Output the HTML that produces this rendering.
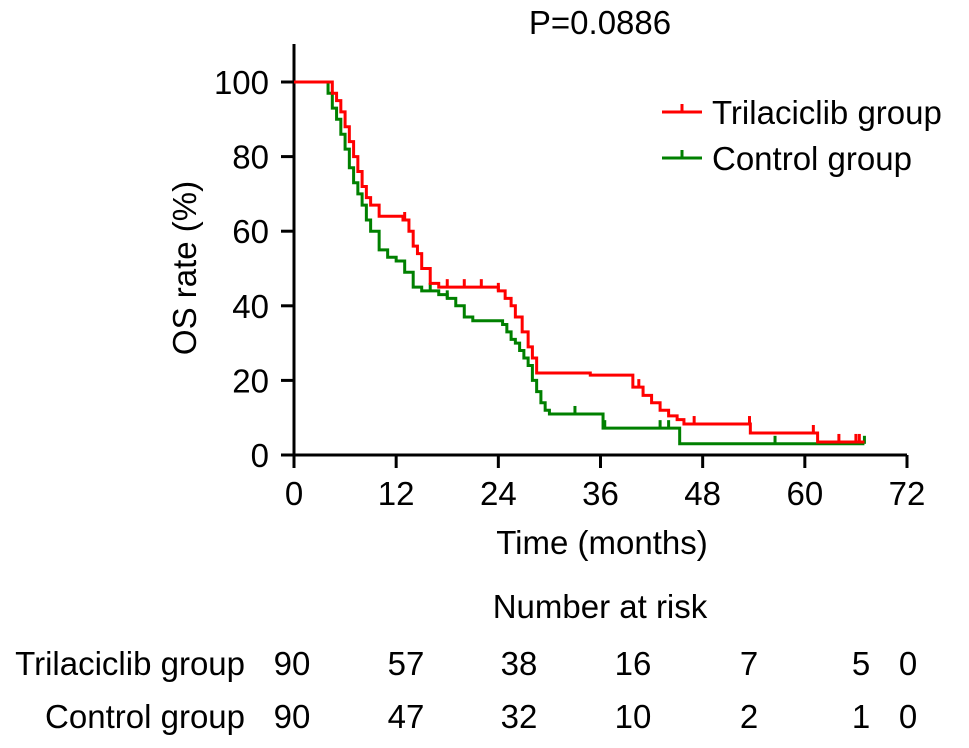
<!DOCTYPE html>
<html><head><meta charset="utf-8"><style>
body{margin:0;background:#fff;}
svg{display:block;font-family:"Liberation Sans",Arial,sans-serif;}
</style></head><body>
<svg id="chart" width="969" height="748">
<text x="600" y="34" font-size="33" text-anchor="middle">P=0.0886</text>
<text transform="translate(196,268) rotate(-90)" font-size="33" text-anchor="middle">OS rate (%)</text>
<text x="602" y="554" font-size="33" text-anchor="middle">Time (months)</text>
<g>
<line x1="662" y1="112" x2="702" y2="112" stroke="#ff0000" stroke-width="3"/>
<line x1="682" y1="112" x2="682" y2="104" stroke="#ff0000" stroke-width="3"/>
<text x="712" y="124" font-size="33">Trilaciclib group</text>
<line x1="662" y1="158" x2="702" y2="158" stroke="#008000" stroke-width="3"/>
<line x1="682" y1="158" x2="682" y2="150" stroke="#008000" stroke-width="3"/>
<text x="712" y="170" font-size="33">Control group</text>
</g>
<text x="600" y="618" font-size="33" text-anchor="middle">Number at risk</text>
<g id="axes"></g>
<g id="series"></g>
<g id="risk"></g>
</svg>
<script>
const xTicks=[0,12,24,36,48,60,72];
const yTicks=[0,20,40,60,80,100];
const redT=[0,3.8,4.5,5,5.5,6,6.5,7,7.5,8,8.5,9,10,12.8,13.5,14,14.5,15,16,17,24,24.8,25.5,26,26.8,27.5,28,28.5,34.8,39.8,41,42,43,44,45,45.8,53.6,61.5,67];
const redS=[100,100,97,95,92,88,84,80,76,72,69,67,64,63,60,56,54,50,46,45,44,42,40,37,33,29,26,22,21.4,18.2,16,14,12,10.5,9.5,8.3,5.9,3.5,3.5];
const grnT=[0,3.5,4,4.5,5,5.5,6,6.5,7,7.5,8,8.5,9,10,11,12,13,14,15,17,18,19,20,21,24.5,25,25.5,26,26.5,27,27.5,28,28.5,29,29.5,30,35.9,36.3,45.3,67];
const grnS=[100,100,97,93,90,86,82,77,73,70,67,63,60,55,53,52,49,45,44,43,42,40,37,36,35,33,31,30,28,26,24,20,17,14,12,11,11,7.2,3,3];
const redCensor=[13,18,20,22,24,40.5,47,53.5,61,64,66,66.4];
const grnCensor=[16,18,33,36.5,43,44,56.5,67];
const riskRed=[90,57,38,16,7,5,0];
const riskGrn=[90,47,32,10,2,1,0];
const riskX=[292,406,519,633,749,861,908];
const NS="http://www.w3.org/2000/svg";
const X=t=>294+t*(613/72), Y=s=>455-s*3.73;
function mk(tag,attrs,parent){const e=document.createElementNS(NS,tag);for(const k in attrs)e.setAttribute(k,attrs[k]);parent.appendChild(e);return e;}
const ax=document.getElementById('axes');
const xa=mk('line',{x1:294,y1:455,x2:907,y2:455,stroke:'#000','stroke-width':3},ax);


const ya=mk('line',{x1:294,y1:44,x2:294,y2:456,stroke:'#000','stroke-width':3},ax);


xTicks.forEach(t=>{mk('line',{x1:X(t),y1:455,x2:X(t),y2:468,stroke:'#000','stroke-width':3},ax);
const tx=mk('text',{x:X(t),y:505,'font-size':33,'text-anchor':'middle'},ax);tx.textContent=t;

});
yTicks.forEach(s=>{mk('line',{x1:281,y1:Y(s),x2:294,y2:Y(s),stroke:'#000','stroke-width':3},ax);
const tx=mk('text',{x:269,y:Y(s)+12,'font-size':33,'text-anchor':'end'},ax);tx.textContent=s;

});
function stepVal(T,S,t){let v=S[0];for(let i=0;i<T.length;i++){if(T[i]<=t)v=S[i];}return v;}
function series(T,S,C,color,name){
 const g=document.getElementById('series');
 let d='M'+X(T[0])+','+Y(S[0]);
 for(let i=1;i<T.length;i++){d+=' H'+X(T[i])+' V'+Y(S[i]);}
 const p=mk('path',{d:d,fill:'none',stroke:color,'stroke-width':3},g);
 
 
 C.forEach(t=>{const v=stepVal(T,S,t);const c=mk('line',{x1:X(t),y1:Y(v),x2:X(t),y2:Y(v)-8,stroke:color,'stroke-width':3},g);
 
 });
}
series(grnT,grnS,grnCensor,'#008000','control');
series(redT,redS,redCensor,'#ff0000','trilaciclib');
const rk=document.getElementById('risk');
[['Trilaciclib group',riskRed,675,'trilaciclib'],['Control group',riskGrn,728,'control']].forEach(r=>{
 const l=mk('text',{x:245,y:r[2],'font-size':33,'text-anchor':'end'},rk);l.textContent=r[0];
 
 
 r[1].forEach((v,i)=>{const t=mk('text',{x:riskX[i],y:r[2],'font-size':33,'text-anchor':'middle'},rk);t.textContent=v;
 
 });
});
</script>
</body></html>
